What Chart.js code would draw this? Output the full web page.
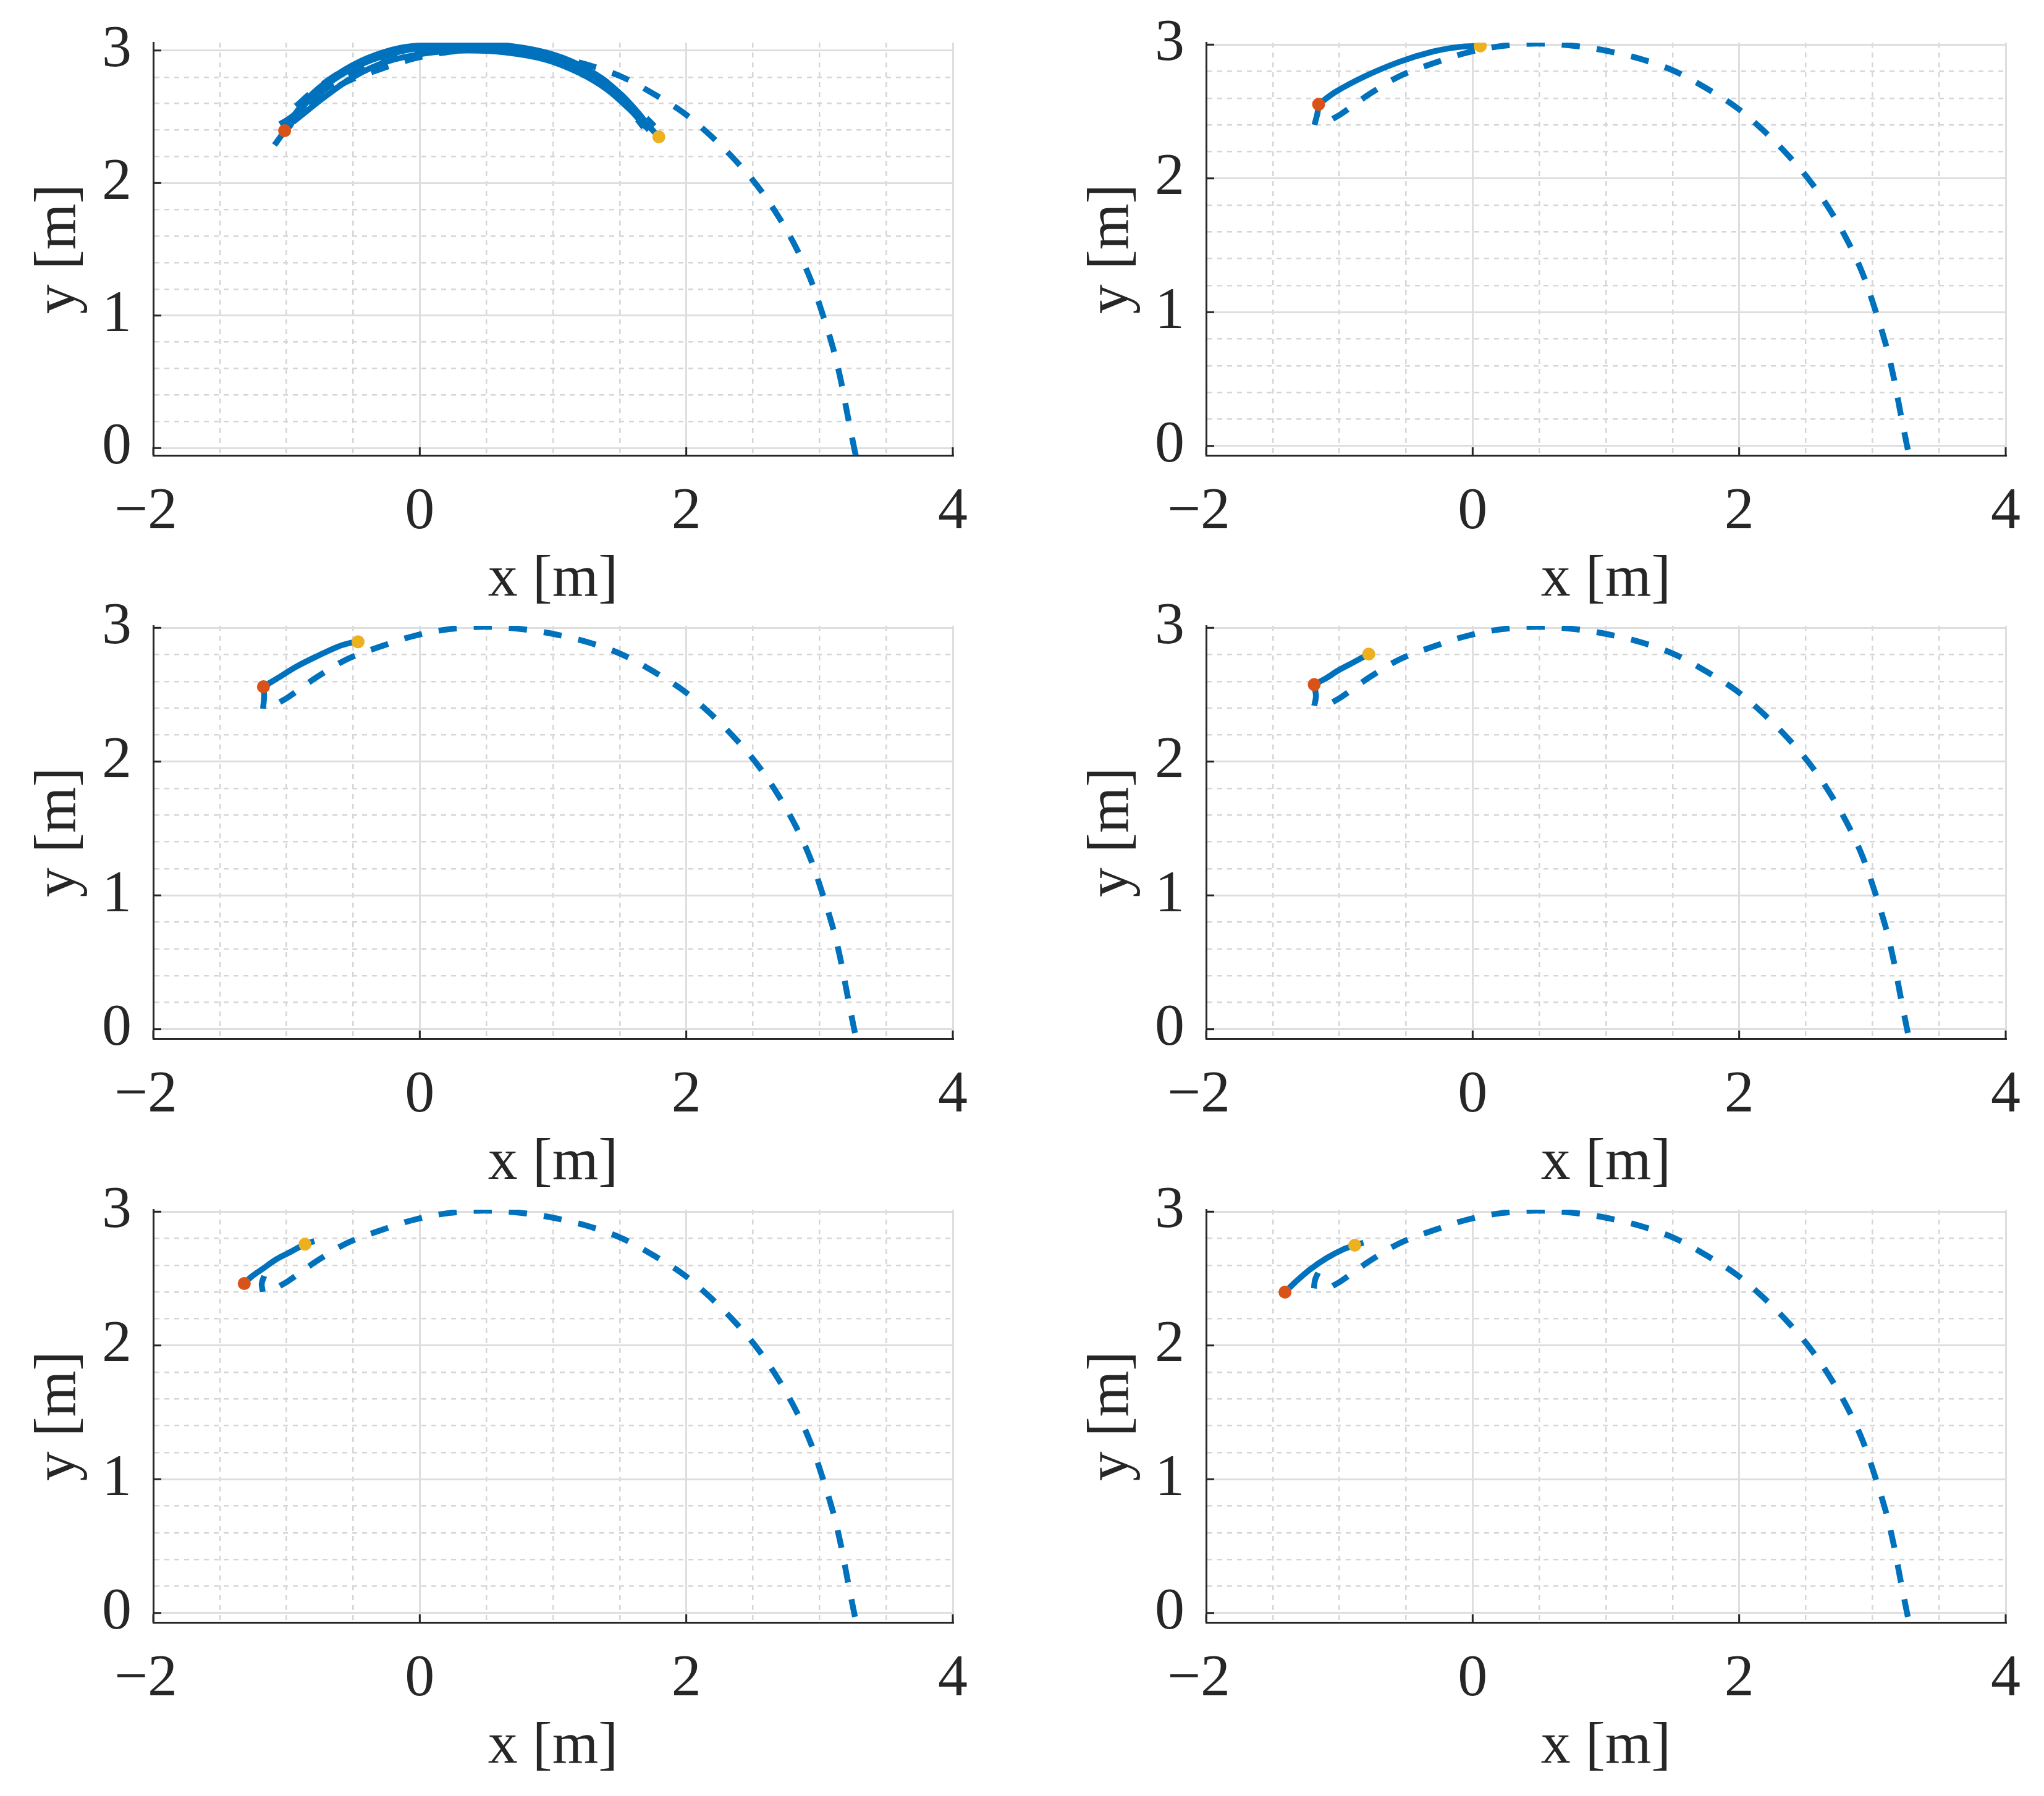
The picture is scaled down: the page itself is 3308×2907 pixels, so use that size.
<!DOCTYPE html>
<html>
<head>
<meta charset="utf-8">
<script src="https://cdn.jsdelivr.net/npm/chart.js@4.4.0/dist/chart.umd.min.js"></script>
<style>
  html, body { margin: 0; padding: 0; background: #fff; }
  body { width: 3308px; height: 2907px; position: relative; overflow: hidden; }
  canvas { position: absolute; }
</style>
</head>
<body>
<canvas id="c1" width="1650" height="1000" style="left:0px;top:0px"></canvas>
<canvas id="c2" width="1650" height="1000" style="left:1704px;top:0px"></canvas>
<canvas id="c3" width="1650" height="1000" style="left:0px;top:944px"></canvas>
<canvas id="c4" width="1650" height="1000" style="left:1704px;top:944px"></canvas>
<canvas id="c5" width="1650" height="1000" style="left:0px;top:1889px"></canvas>
<canvas id="c6" width="1650" height="1000" style="left:1704px;top:1889px"></canvas>
<script>
// axis ticks and grid
var xMajor = [-2, 0, 2, 4];
var xLabels = ['−2 ', '0', '2', '4'];
var yMajor = [0, 1, 2, 3];
var yLabels = ['0', '1', '2', '3'];
var xGrid = [-2, -1.5, -1, -0.5, 0, 0.5, 1, 1.5, 2, 2.5, 3, 3.5, 4];
var yGrid = [0, 0.2, 0.4, 0.6, 0.8, 1, 1.2, 1.4, 1.6, 1.8, 2, 2.2, 2.4, 2.6, 2.8, 3];

// reference path (dashed), same in every panel
var refX = [-1.05, -0.99, -0.775, -0.543, -0.296, -0.042, 0.22, 0.483, 0.753, 1.00, 1.27, 1.52, 1.76, 1.98, 2.18, 2.37, 2.54, 2.69, 2.82, 2.93, 3.02, 3.10, 3.16, 3.21, 3.26, 3.275];
var refY = [2.445, 2.48, 2.63, 2.767, 2.86, 2.94, 2.99, 3.008, 2.992, 2.955, 2.89, 2.80, 2.67, 2.53, 2.36, 2.17, 1.97, 1.75, 1.52, 1.28, 1.02, 0.76, 0.51, 0.25, 0.0, -0.07];

// panel 1: several overlapping runs
var p1RunAX = [-1.09, -1.014, -0.93, -0.80, -0.62, -0.40, -0.15, 0.12, 0.40, 0.68, 0.95, 1.18, 1.38, 1.52, 1.64, 1.72, 1.794];
var p1RunAY = [2.287, 2.395, 2.53, 2.68, 2.82, 2.94, 3.02, 3.045, 3.05, 3.035, 2.985, 2.90, 2.78, 2.66, 2.53, 2.43, 2.349];
var p1RunBX = [-0.95, -0.89, -0.70, -0.50, -0.25, 0.05, 0.35, 0.65, 0.95, 1.20, 1.40, 1.55, 1.66, 1.72];
var p1RunBY = [2.46, 2.51, 2.66, 2.80, 2.915, 2.98, 3.0, 2.985, 2.93, 2.83, 2.71, 2.58, 2.47, 2.40];
var p1RunCX = [-0.98, -0.90, -0.75, -0.55, -0.30, 0.0, 0.30, 0.60, 0.90, 1.15, 1.35, 1.50, 1.62, 1.70];
var p1RunCY = [2.42, 2.55, 2.70, 2.84, 2.95, 3.02, 3.03, 3.02, 2.97, 2.88, 2.76, 2.64, 2.51, 2.42];
var p1DashBX = [-0.96, -0.80, -0.60, -0.35, -0.05, 0.30, 0.65, 0.95, 1.20, 1.40, 1.56, 1.68];
var p1DashBY = [2.50, 2.64, 2.78, 2.90, 2.99, 3.03, 3.02, 2.96, 2.86, 2.73, 2.57, 2.42];
var p1DashCX = [-0.93, -0.78, -0.55, -0.25, 0.10, 0.45, 0.80, 1.10, 1.32, 1.48, 1.60, 1.68, 1.76];
var p1DashCY = [2.58, 2.71, 2.86, 2.97, 3.03, 3.04, 3.0, 2.92, 2.82, 2.70, 2.57, 2.51, 2.43];
var p1Start = [-1.014, 2.395];
var p1End = [1.794, 2.349];

// panels 2-6: short start hook and run
var p2HookX = [-1.187, -1.164, -1.156];
var p2HookY = [2.40, 2.49, 2.554];
var p2RunX = [-1.156, -1.03, -0.816, -0.553, -0.306, -0.105, 0.057];
var p2RunY = [2.554, 2.646, 2.76, 2.87, 2.946, 2.982, 2.99];
var p2Start = [-1.156, 2.554];
var p2End = [0.057, 2.99];

var p3HookX = [-1.176, -1.168, -1.173];
var p3HookY = [2.395, 2.49, 2.56];
var p3RunX = [-1.173, -1.06, -0.921, -0.767, -0.613, -0.52, -0.463];
var p3RunY = [2.56, 2.628, 2.713, 2.79, 2.86, 2.888, 2.896];
var p3Start = [-1.173, 2.56];
var p3End = [-0.463, 2.896];

var p4HookX = [-1.189, -1.176, -1.189];
var p4HookY = [2.417, 2.487, 2.576];
var p4RunX = [-1.189, -1.096, -1.003, -0.895, -0.78];
var p4RunY = [2.576, 2.626, 2.685, 2.742, 2.804];
var p4Start = [-1.189, 2.576];
var p4End = [-0.78, 2.804];

var p5HookX = [-1.178, -1.186, -1.167];
var p5HookY = [2.401, 2.463, 2.52];
var p5RunX = [-1.317, -1.263, -1.170, -1.077, -0.969, -0.861, -0.791];
var p5RunY = [2.463, 2.514, 2.579, 2.644, 2.70, 2.757, 2.78];
var p5Start = [-1.317, 2.463];
var p5End = [-0.861, 2.757];

var p6HookX = [-1.191, -1.183, -1.16];
var p6HookY = [2.427, 2.489, 2.543];
var p6RunX = [-1.408, -1.33, -1.222, -1.098, -0.974, -0.885, -0.819];
var p6RunY = [2.399, 2.474, 2.567, 2.652, 2.717, 2.749, 2.768];
var p6Start = [-1.408, 2.399];
var p6End = [-0.885, 2.749];

var blue = '#0072BD', red = '#D95319', yellow = '#EDB120', ink = '#262626';
var tickFont = { family: "'Liberation Serif', 'Times New Roman', Times, Tinos, serif", size: 96 };

function pts(xs, ys) {
    return xs.map(function (x, i) { return { x: x, y: ys[i] }; });
}
function solid(xs, ys) {
    return { data: pts(xs, ys), borderColor: blue, borderWidth: 9.5, pointRadius: 0, fill: false };
}
function dashed(xs, ys) {
    return { data: pts(xs, ys), borderColor: blue, borderWidth: 9.5, borderDash: [29, 28], pointRadius: 0, fill: false };
}
function dot(p, color) {
    return { data: [{ x: p[0], y: p[1] }], showLine: false, pointRadius: 10.5, pointBackgroundColor: color, pointBorderWidth: 0, borderColor: color };
}

function labelFor(v, major, labels) {
    var i = major.indexOf(v);
    return i < 0 ? '' : labels[i];
}
function gridFor(major) {
    return {
        color: function (c) { return c.tick && major.indexOf(c.tick.value) < 0 ? '#d6d6d6' : '#dedede'; },
        lineWidth: function (c) { return c.tick && major.indexOf(c.tick.value) < 0 ? 2.5 : 3; },
        drawTicks: false
    };
}
function borderFor(major) {
    return {
        display: true, color: ink, width: 3,
        dash: function (c) { return c.tick && major.indexOf(c.tick.value) < 0 ? [8, 8] : []; }
    };
}
function noPad(s) {
    s.paddingLeft = 0; s.paddingRight = 0; s.paddingTop = 0; s.paddingBottom = 0;
}

// MATLAB style inward tick marks
var inTicks = {
    id: 'inTicks',
    afterDatasetsDraw: function (chart) {
        var ctx = chart.ctx, a = chart.chartArea, xs = chart.scales.x, ys = chart.scales.y;
        ctx.save();
        ctx.strokeStyle = ink;
        ctx.lineWidth = 3;
        ctx.beginPath();
        xMajor.forEach(function (v) {
            var px = xs.getPixelForValue(v);
            ctx.moveTo(px, a.bottom); ctx.lineTo(px, a.bottom - 13);
        });
        yMajor.forEach(function (v) {
            var py = ys.getPixelForValue(v);
            ctx.moveTo(a.left, py); ctx.lineTo(a.left + 13, py);
        });
        ctx.stroke();
        ctx.restore();
    }
};

function makeChart(id, yMin, yMax, datasets) {
    return new Chart(document.getElementById(id), {
        type: 'line',
        data: { datasets: datasets },
        options: {
            responsive: false,
            animation: false,
            events: [],
            layout: { padding: { left: 0, right: 108, top: 69, bottom: 0 } },
            plugins: { legend: { display: false }, tooltip: { enabled: false } },
            elements: { line: { tension: 0.35 } },
            scales: {
                x: {
                    type: 'linear', min: -2, max: 4,
                    afterBuildTicks: function (s) { s.ticks = xGrid.map(function (v) { return { value: v }; }); },
                    afterFit: function (s) { s.height = 263; noPad(s); },
                    grid: gridFor(xMajor),
                    border: borderFor(xMajor),
                    ticks: {
                        autoSkip: false, maxRotation: 0, padding: 35, color: ink, font: tickFont,
                        callback: function (v) { return labelFor(v, xMajor, xLabels); }
                    },
                    title: { display: true, text: 'x [m]', color: ink, font: tickFont, padding: { top: 0, bottom: 4 } }
                },
                y: {
                    type: 'linear', min: yMin, max: yMax,
                    afterBuildTicks: function (s) { s.ticks = yGrid.map(function (v) { return { value: v }; }); },
                    afterFit: function (s) { s.width = 248; noPad(s); },
                    grid: gridFor(yMajor),
                    border: borderFor(yMajor),
                    ticks: {
                        autoSkip: false, padding: 35, color: ink, font: tickFont,
                        callback: function (v) { return labelFor(v, yMajor, yLabels); }
                    },
                    title: { display: true, text: 'y [m]', color: ink, font: tickFont, padding: { top: 38, bottom: 0 } }
                }
            }
        },
        plugins: [inTicks]
    });
}

makeChart('c1', -0.055, 3.06, [
    dot(p1Start, red), dot(p1End, yellow),
    solid(p1RunAX, p1RunAY), solid(p1RunBX, p1RunBY), solid(p1RunCX, p1RunCY),
    dashed(p1DashBX, p1DashBY), dashed(p1DashCX, p1DashCY),
    dashed(refX, refY)
]);
makeChart('c2', -0.07, 3.015, [
    dot(p2Start, red), dot(p2End, yellow),
    solid(p2HookX, p2HookY), solid(p2RunX, p2RunY), dashed(refX, refY)
]);
makeChart('c3', -0.07, 3.015, [
    dot(p3Start, red), dot(p3End, yellow),
    solid(p3HookX, p3HookY), solid(p3RunX, p3RunY), dashed(refX, refY)
]);
makeChart('c4', -0.07, 3.015, [
    dot(p4Start, red), dot(p4End, yellow),
    solid(p4HookX, p4HookY), solid(p4RunX, p4RunY), dashed(refX, refY)
]);
makeChart('c5', -0.07, 3.015, [
    dot(p5Start, red), dot(p5End, yellow),
    solid(p5HookX, p5HookY), solid(p5RunX, p5RunY), dashed(refX, refY)
]);
makeChart('c6', -0.07, 3.015, [
    dot(p6Start, red), dot(p6End, yellow),
    solid(p6HookX, p6HookY), solid(p6RunX, p6RunY), dashed(refX, refY)
]);
</script>
</body>
</html>
